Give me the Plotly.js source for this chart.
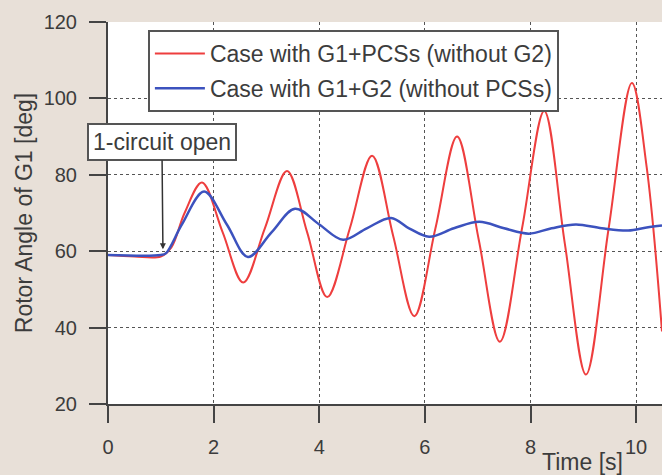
<!DOCTYPE html>
<html>
<head>
<meta charset="utf-8">
<script src="https://cdn.plot.ly/plotly-3.0.1.min.js"></script>
<style>html,body{margin:0;padding:0;background:#e8e0d8;}</style>
</head>
<body>
<div id="chart" style="width:662px;height:475px;"></div>
<script>
// Case with G1+PCSs (without G2)
const redTime = [0, 0.5, 1.0, 1.2, 1.45, 1.78, 2.17, 2.56, 2.97, 3.39, 3.77, 4.15, 4.58, 5.0, 5.4, 5.80, 6.2, 6.61, 7.02, 7.42, 7.84, 8.26, 8.65, 9.05, 9.48, 9.92, 10.2, 10.49];
const redAngle = [59, 58.6, 58.6, 61, 70, 78, 65, 51.8, 66, 81, 65, 48, 66, 85, 64, 43, 66, 90, 63, 36.3, 66, 96.7, 62, 27.7, 66, 104, 82, 39];
// Case with G1+G2 (without PCSs)
const blueTime = [0, 1.0, 1.1, 1.4, 1.82, 2.25, 2.65, 3.1, 3.54, 4.0, 4.45, 4.9, 5.36, 5.7, 6.08, 6.55, 7.03, 7.5, 7.97, 8.4, 8.86, 9.35, 9.85, 10.2, 10.49];
const blueAngle = [59, 59, 59.5, 67, 75.6, 67, 58.5, 65, 71.1, 67, 63, 66, 68.7, 66, 63.8, 66, 67.7, 66, 64.6, 66, 67, 66, 65.4, 66.2, 66.7];
const seriesNames = ["Case with G1+PCSs (without G2)", "Case with G1+G2 (without PCSs)"];
const xTicks = [0, 2, 4, 6, 8, 10];
const yTicks = [20, 40, 60, 80, 100, 120];
const eventTime = 1.04, eventAngle = 60.5;

const traces = [
  {x: redTime, y: redAngle, name: seriesNames[0], mode: 'lines', legendgroup: 'a',
   line: {color: 'rgb(238,62,62)', width: 2, shape: 'spline', smoothing: 1}},
  {x: blueTime, y: blueAngle, name: seriesNames[1], mode: 'lines', legendgroup: 'b',
   line: {color: 'rgb(60,82,190)', width: 2.5, shape: 'spline', smoothing: 1}}
];
const FAM = 'Liberation Sans, Arial, sans-serif';
const tickFont = {family: FAM, size: 20, color: '#3c3c3c'};
const textFont = {family: FAM, size: 23, color: '#3c3c3c'};
const layout = {
  width: 662, height: 475,
  paper_bgcolor: '#e8e0d8', plot_bgcolor: '#ffffff',
  margin: {l: 108, r: 0, t: 22, b: 71, pad: 0},
  showlegend: true,
  legend: {x: 0.072, y: 0.979, xanchor: 'left', yanchor: 'top', bgcolor: '#ffffff',
    bordercolor: '#555', borderwidth: 2, font: textFont, itemwidth: 50,
    traceorder: 'grouped', tracegroupgap: 2},
  xaxis: {range: [0, 10.49], tickvals: xTicks, ticks: 'outside', ticklen: 17, tickwidth: 2, tickcolor: '#444',
    showline: true, linecolor: '#444', linewidth: 2, showgrid: true, gridcolor: '#555', griddash: 'dot', gridwidth: 1,
    zeroline: false, tickfont: tickFont, ticklabelstandoff: 7},
  yaxis: {range: [20, 120], tickvals: yTicks, ticks: 'outside', ticklen: 17, tickwidth: 2, tickcolor: '#444',
    showline: true, linecolor: '#444', linewidth: 2, showgrid: true, gridcolor: '#555', griddash: 'dot', gridwidth: 1,
    zeroline: false, tickfont: tickFont, ticklabelstandoff: 8,
    title: {text: 'Rotor Angle of G1 [deg]', font: textFont, standoff: 5}},
  annotations: [
    {x: eventTime, y: eventAngle, xref: 'x', yref: 'y', text: '1-circuit open', showarrow: true,
     ax: -1, ay: -107, arrowhead: 2, arrowsize: 0.8, arrowwidth: 1.5, arrowcolor: '#333',
     bgcolor: '#ffffff', bordercolor: '#555', borderwidth: 2, borderpad: 4,
     font: textFont},
    {x: 0, y: 0, xref: 'paper', yref: 'paper', text: 'Time [s]', showarrow: false,
     font: textFont}
  ]
};
// convert pixel position of the x title to paper coordinates
layout.annotations[1].x = (582 - 108) / 554;
layout.annotations[1].y = (404 - 462) / 382;
layout.annotations[1].xanchor = 'center';
layout.annotations[1].yanchor = 'middle';
Plotly.newPlot('chart', traces, layout, {displayModeBar: false, staticPlot: true});
</script>
</body>
</html>
